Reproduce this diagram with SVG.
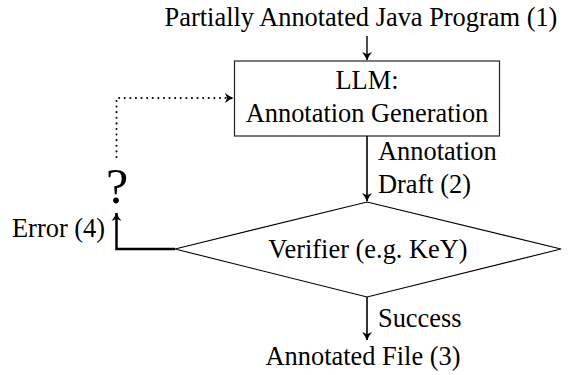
<svg xmlns="http://www.w3.org/2000/svg" width="571" height="375" viewBox="0 0 571 375">
<style>
text{font-family:'Liberation Serif','Times New Roman',Times,serif;font-size:26.4px;fill:#000}
.c{text-anchor:middle}
.ln{fill:none;stroke:#000}
</style>
<defs>
<marker id="ah" viewBox="-10 -7 12 14" refX="0" refY="0" markerWidth="12" markerHeight="14" orient="auto" markerUnits="userSpaceOnUse">
<path d="M0.5,0 Q-3.5,-1.3 -8,-5 L-5.8,0 L-8,5 Q-3.5,1.3 0.5,0Z" fill="#000"/>
</marker>
</defs>
<rect width="571" height="375" fill="#fff"/>
<g id="input"><text class="c" x="361" y="26">Partially Annotated Java Program (1)</text></g>
<g id="llm">
<rect x="234.5" y="61" width="265" height="75" fill="#fff" stroke="#222" stroke-width="1.2"/>
<text class="c" x="367" y="89">LLM:</text>
<text class="c" x="367" y="122">Annotation Generation</text>
</g>
<g id="verifier">
<polygon points="367,202 561,249 367,297 175,249" fill="#fff" stroke="#000" stroke-width="1.1"/>
<text class="c" x="368" y="258">Verifier (e.g. KeY)</text>
</g>
<g id="output"><text class="c" x="363" y="365">Annotated File (3)</text></g>
<g id="question"><text class="c" x="117" y="203" style="font-size:50px">?</text></g>
<g id="connectors">
<line class="ln" x1="367" y1="36" x2="367" y2="60" stroke-width="1.4" marker-end="url(#ah)"/>
<line class="ln" x1="367" y1="136" x2="367" y2="201" stroke-width="1.6" marker-end="url(#ah)"/>
<line class="ln" x1="367" y1="297" x2="367" y2="340" stroke-width="1.6" marker-end="url(#ah)"/>
<polyline class="ln" points="175,249 116.5,249 116.5,213" stroke-width="2.5" marker-end="url(#ah)"/>
<polyline class="ln" points="116.5,157 116.5,98 233,98" stroke-width="2" stroke-linecap="round" stroke-dasharray="0.1 5.5" marker-end="url(#ah)"/>
<text x="378" y="160">Annotation</text>
<text x="378" y="193">Draft (2)</text>
<text x="378" y="327">Success</text>
<text x="12" y="237">Error (4)</text>
</g>
</svg>
